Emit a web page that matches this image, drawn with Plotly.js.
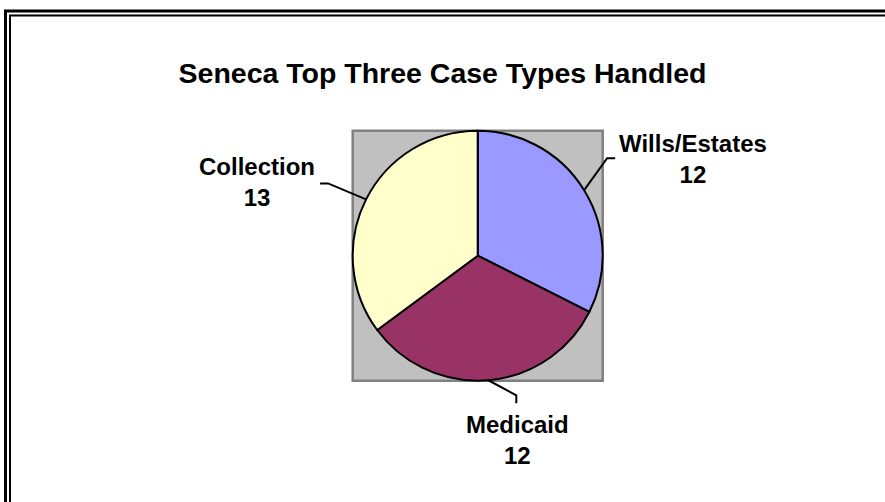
<!DOCTYPE html>
<html>
<head>
<meta charset="utf-8">
<script src="https://cdn.plot.ly/plotly-3.0.1.min.js"></script>
<style>
  html, body { margin: 0; padding: 0; background: #ffffff; }
  #chart { width: 885px; height: 502px; }
</style>
</head>
<body>
<div id="chart"></div>
<script>
// ---- data ----
const categories = ['Wills/Estates', 'Medicaid', 'Collection'];
const caseCounts = [12, 12, 13];
const sliceColors = ['#9999FF', '#993366', '#FFFFCC'];
const chartTitle = 'Seneca Top Three Case Types Handled';

// ---- layout / style (pixels) ----
const W = 885, H = 502;
const pieCenterPx = [477.7, 255.7];
const pieRadiusPx = 125;
// leader-line elbow, end, and label-centre offsets relative to slice edge point
const labelStyle = [
  { elbow: [23, -32], end: [31, -32], text: [109, -31] },
  { elbow: [28, 15],  end: [28, 23],  text: [29, 60] },
  { elbow: [-38, -16], end: [-46, -16], text: [-109, -17] }
];

const px2x = px => px / W;
const py2y = py => 1 - py / H;

const domain = {
  x: [px2x(pieCenterPx[0] - pieRadiusPx), px2x(pieCenterPx[0] + pieRadiusPx)],
  y: [py2y(pieCenterPx[1] + pieRadiusPx), py2y(pieCenterPx[1] - pieRadiusPx)]
};

// slice mid angles from the data (clockwise from 12 o'clock)
const total = caseCounts.reduce((a, b) => a + b, 0);
let acc = 0;
const midAngles = caseCounts.map(v => { const m = (acc + v / 2) / total * 2 * Math.PI; acc += v; return m; });

const shapes = [];
// plot-area grey square (bounding box of pie)
shapes.push({
  type: 'rect', xref: 'paper', yref: 'paper', layer: 'below',
  x0: domain.x[0], x1: domain.x[1], y0: domain.y[0], y1: domain.y[1],
  fillcolor: '#C0C0C0', line: { color: '#808080', width: 2.5 }
});
// outer double border (clipped at right/bottom)
shapes.push({
  type: 'rect', xref: 'paper', yref: 'paper', layer: 'above',
  x0: px2x(5.5), x1: px2x(W + 20), y0: py2y(H + 20), y1: py2y(11),
  fillcolor: 'rgba(0,0,0,0)', line: { color: '#000000', width: 3 }
});
shapes.push({
  type: 'rect', xref: 'paper', yref: 'paper', layer: 'above',
  x0: px2x(10), x1: px2x(W + 20), y0: py2y(H + 20), y1: py2y(15.5),
  fillcolor: 'rgba(0,0,0,0)', line: { color: '#000000', width: 2 }
});

const annotations = [];
categories.forEach((name, i) => {
  const a = midAngles[i];
  const P = [pieCenterPx[0] + pieRadiusPx * Math.sin(a), pieCenterPx[1] - pieRadiusPx * Math.cos(a)];
  const s = labelStyle[i];
  const E = [P[0] + s.elbow[0], P[1] + s.elbow[1]];
  const F = [P[0] + s.end[0], P[1] + s.end[1]];
  shapes.push({
    type: 'path', xref: 'paper', yref: 'paper', layer: 'above',
    path: `M ${px2x(P[0])},${py2y(P[1])} L ${px2x(E[0])},${py2y(E[1])} L ${px2x(F[0])},${py2y(F[1])}`,
    line: { color: '#000000', width: 2 }
  });
  annotations.push({
    xref: 'paper', yref: 'paper',
    x: px2x(P[0] + s.text[0]), y: py2y(P[1] + s.text[1]),
    xanchor: 'center', yanchor: 'middle', showarrow: false, align: 'center',
    text: `<b>${name}</b><br><b>${caseCounts[i]}</b>`,
    font: { family: 'Liberation Sans, Arial, sans-serif', size: 24, color: '#000000' }
  });
});

const data = [{
  type: 'pie',
  labels: categories,
  values: caseCounts,
  sort: false,
  direction: 'clockwise',
  rotation: 0,
  textposition: 'none',
  hoverinfo: 'label+value',
  marker: { colors: sliceColors, line: { color: '#000000', width: 2 } },
  domain: domain,
  showlegend: false
}];

const layout = {
  width: W, height: H,
  margin: { l: 0, r: 0, t: 0, b: 0 },
  paper_bgcolor: '#FFFFFF',
  showlegend: false,
  title: {
    text: '<b>' + chartTitle + '</b>',
    x: 0.5, xanchor: 'center', xref: 'paper',
    y: py2y(73), yanchor: 'middle', yref: 'container',
    font: { family: 'Liberation Sans, Arial, sans-serif', size: 28.5, color: '#000000' }
  },
  shapes: shapes,
  annotations: annotations
};

Plotly.newPlot('chart', data, layout, { displayModeBar: false, staticPlot: true });
</script>
</body>
</html>
